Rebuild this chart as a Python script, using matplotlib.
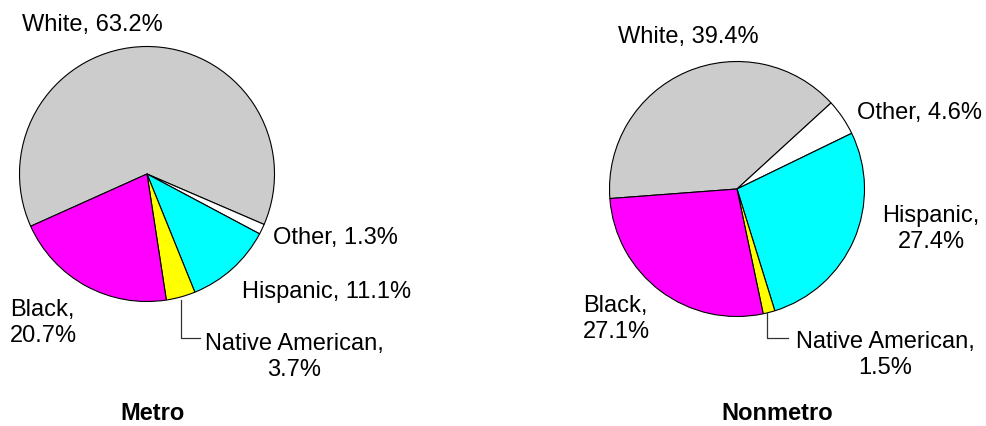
import matplotlib
matplotlib.use("Agg")
import matplotlib.pyplot as plt

# Race/ethnicity shares (percent)
groups = ["White", "Other", "Hispanic", "Native American", "Black"]
metro = [63.2, 1.3, 11.1, 3.7, 20.7]
nonmetro = [39.4, 4.6, 27.4, 1.5, 27.1]
colors = ["#cccccc", "#ffffff", "#00ffff", "#ffff00", "#ff00ff"]

W, H = 987, 426
plt.rcParams["font.family"] = ["Liberation Sans", "DejaVu Sans"]

fig = plt.figure(figsize=(W / 100, H / 100), dpi=100)
ax = fig.add_axes([0, 0, 1, 1])


def P(x, y):
    # pixel coordinates (origin top-left) -> data coordinates
    return x, H - y


FS = 17


def pct(v):
    return f"{v:.1f}%"


def draw_pie(vals, center, startangle, title, title_xy, labels):
    ax.pie(vals, colors=colors, startangle=startangle, counterclock=False,
           center=P(*center), radius=127.5,
           wedgeprops=dict(edgecolor="black", linewidth=0.8))
    for i, (x, y, ha, sep) in labels.items():
        txt = f"{groups[i]},{sep}{pct(vals[i])}"
        ax.text(*P(x, y), txt, ha=ha, va="center", fontsize=FS,
                multialignment="center" if ha == "center" else "left",
                linespacing=1.25)
    ax.text(*P(*title_xy), title, ha="center", va="center",
            fontsize=FS, fontweight="bold")


draw_pie(metro, (147, 174), 204.2, "Metro", (153, 414),
         {0: (22, 25, "left", " "),
          1: (273, 238, "left", " "),
          2: (242, 292, "left", " "),
          3: (294, 357, "center", "\n"),
          4: (10, 323, "left", "\n")})
ax.plot(*zip(P(181, 300), P(181, 338), P(200, 338)), color="#333333", lw=0.9)

draw_pie(nonmetro, (737, 189), 184.3, "Nonmetro", (777, 413),
         {0: (618, 37, "left", " "),
          1: (857, 113, "left", " "),
          2: (931, 229, "center", "\n"),
          3: (885, 355, "center", "\n"),
          4: (583, 319, "left", "\n")})
ax.plot(*zip(P(767, 313), P(767, 338), P(788, 338)), color="#333333", lw=0.9)

ax.set_xlim(0, W)
ax.set_ylim(0, H)
ax.set_aspect("equal")
ax.axis("off")

fig.savefig("out.png", dpi=100, facecolor="white")
